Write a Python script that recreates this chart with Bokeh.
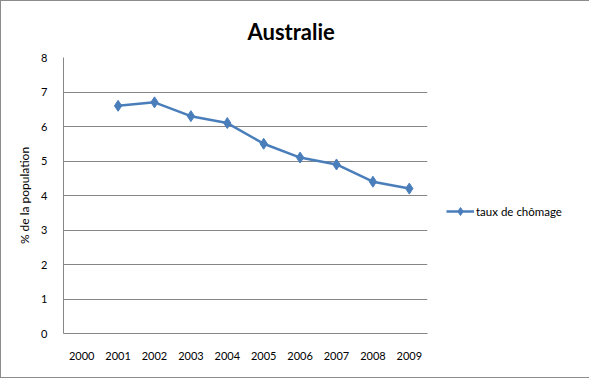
from bokeh.plotting import figure
from bokeh.models import Legend, LegendItem, FactorRange, Title
from bokeh.embed import file_html
from bokeh.resources import INLINE

years = ["2000", "2001", "2002", "2003", "2004", "2005", "2006", "2007", "2008", "2009"]
rate_years = ["2001", "2002", "2003", "2004", "2005", "2006", "2007", "2008", "2009"]
rate = [6.6, 6.7, 6.3, 6.1, 5.5, 5.1, 4.9, 4.4, 4.2]
y_ticks = [0, 1, 2, 3, 4, 5, 6, 7, 8]

FONT = "Lato"
GREY = "#868686"
BLUE = "#4a7ebb"

p = figure(x_range=FactorRange(*years), y_range=(0, 8),
           frame_width=364, frame_height=276, output_backend="svg", toolbar_location=None,
           min_border_left=62, min_border_right=156, min_border_top=56, min_border_bottom=44)
p.styles = {"border": "1px solid #8c8c8c"}
p.x_range.range_padding = 0

p.title = Title(text="Australie", align="left", offset=184,
                text_font=FONT, text_font_size="22px", text_font_style="bold",
                text_color="black", standoff=25)

p.outline_line_color = None
p.xgrid.grid_line_color = None
p.ygrid.grid_line_color = GREY
p.ygrid.grid_line_width = 1
p.yaxis.ticker = y_ticks

for ax in (p.xaxis, p.yaxis):
    ax.axis_line_color = GREY
    ax.major_tick_line_color = None
    ax.minor_tick_line_color = None
    ax.major_label_text_font = FONT
    ax.major_label_text_font_size = "11px"
    ax.major_label_text_color = "black"

p.yaxis.major_label_standoff = 10
p.xaxis.major_label_standoff = 12
p.yaxis.axis_label = "% de la population"
p.yaxis.axis_label_text_font = FONT
p.yaxis.axis_label_text_font_size = "12px"
p.yaxis.axis_label_text_font_style = "normal"
p.yaxis.axis_label_text_color = "black"
p.yaxis.axis_label_standoff = 6

ln = p.line(rate_years, rate, line_color=BLUE, line_width=2.5)
mk = p.scatter(rate_years, rate, marker="diamond", size=11, fill_color=BLUE, line_color=BLUE)

legend = Legend(items=[LegendItem(label="taux de chômage", renderers=[ln, mk])],
                location=(19, 112), border_line_color=None, background_fill_alpha=0,
                label_text_font=FONT, label_text_font_size="11.5px",
                label_text_color="black",
                glyph_width=28, label_standoff=2, padding=0, margin=0)
p.add_layout(legend, "right")

open("out.html", "w").write(file_html(p, INLINE))
